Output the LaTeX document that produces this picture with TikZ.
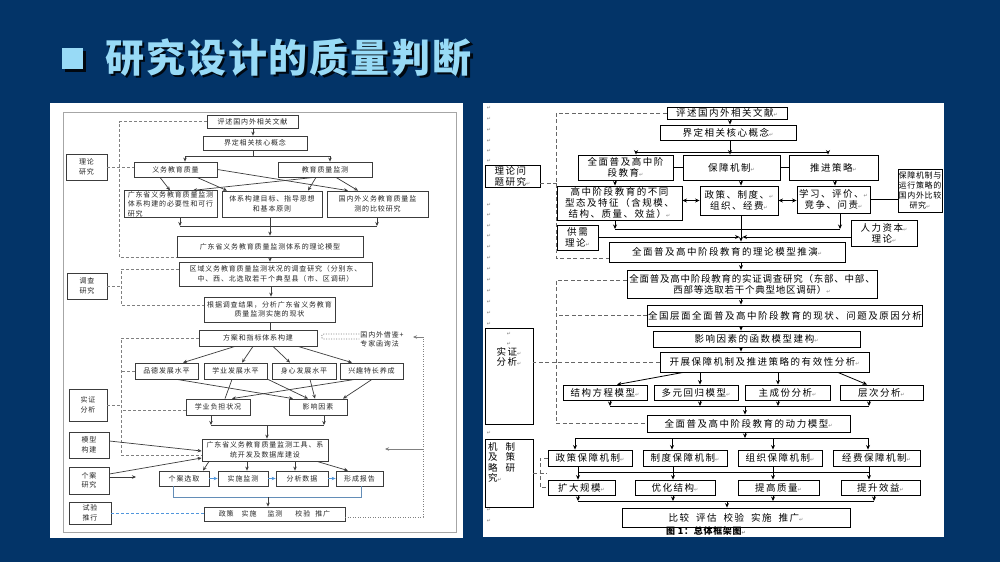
\documentclass[tikz,border=0pt]{standalone}
\usepackage{fontspec}
\setmainfont{Noto Sans CJK SC}
\newfontfamily\cjkT[LetterSpace=5]{Noto Sans CJK SC}
\newfontfamily\cjkL[LetterSpace=12]{Noto Sans CJK SC}
\newfontfamily\cjkR[LetterSpace=16]{Noto Sans CJK SC}
\newfontfamily\cjkRn[LetterSpace=8]{Noto Sans CJK SC}
\newfontfamily\dv{DejaVu Sans}
\usetikzlibrary{arrows.meta}
\definecolor{bgc}{RGB}{3,52,104}
\definecolor{ttl}{RGB}{152,218,246}
\definecolor{lg}{RGB}{60,60,60}
\definecolor{lblue}{RGB}{80,150,220}
\newcommand\rt{{\dv\fontsize{5}{5}\selectfont\textcolor{gray}{↵}}}
\newcommand\bx[7][lbox]{\node[#1, minimum width={(#4-#2)*1pt}, minimum height={(#5-#3)*1pt}] (#6) at ({(#2+#4)/2},{(#3+#5)/2}) {#7};}
\begin{document}
\begin{tikzpicture}[x=1pt,y=-1pt,
  lbox/.style={draw=lg, line width=0.8pt, fill=white, inner sep=0.5pt, align=center, text=black!85, font=\cjkL\fontsize{7}{9.5}\selectfont},
  rbox/.style={draw=black, line width=0.9pt, fill=white, inner sep=0.5pt, align=center, text=black, font=\cjkR\fontsize{9.5}{11}\selectfont},
  la/.style={draw=lg, line width=0.7pt, -{Stealth[length=4pt,width=3.5pt]}},
  ll/.style={draw=lg, line width=0.7pt},
  ldsh/.style={draw=gray, line width=0.8pt, dash pattern=on 3pt off 2pt},
  ldot/.style={draw=gray, line width=0.8pt, dash pattern=on 1pt off 1.5pt},
  lbl/.style={draw=lblue!60!gray, line width=0.8pt},
  ra/.style={draw=black, line width=0.8pt, -{Stealth[length=4.5pt,width=4pt]}},
  rda/.style={draw=black, line width=0.8pt, {Stealth[length=4.5pt,width=4pt]}-{Stealth[length=4.5pt,width=4pt]}},
  rl/.style={draw=black, line width=0.8pt},
  rdsh/.style={draw=black!60, line width=0.9pt, dash pattern=on 4pt off 2.5pt},
  retm/.style={inner sep=0, font=\dv\fontsize{5}{5}\selectfont, text=gray}
]
\useasboundingbox (0,0) rectangle (1000,562);
\fill[bgc] (0,0) rectangle (1000,562);
% title
\fill[black!85!bgc] (64.5,50.5) rectangle (85.5,71.5);
\fill[ttl] (62,48) rectangle (83,69);
\node[anchor=west, inner sep=0, text=black!85!bgc, font=\cjkT\bfseries\fontsize{39}{39}\selectfont] (tsh) at (107.5,60) {研究设计的质量判断};
\node[anchor=west, inner sep=0, text=ttl, font=\cjkT\bfseries\fontsize{39}{39}\selectfont] (title) at (105,57.5) {研究设计的质量判断};

%================ LEFT PANEL
\fill[white] (50,103) rectangle (463,538);
\draw[gray!70, line width=1pt] (63,112) rectangle (456,532);

\bx{207}{115}{298}{128}{L1}{评述国内外相关文献}
\bx{203}{136}{307}{150}{L2}{界定相关核心概念}
\bx{66}{154}{107}{180}{Lth}{理论\\研究}
\bx{134}{162}{217}{177}{L3}{义务教育质量}
\bx{278}{162}{372}{177}{L4}{教育质量监测}
\bx[lbox,align=left]{124}{191}{217}{217}{L5}{广东省义务教育质量监测\\体系构建的必要性和可行\\研究}
\bx{222}{191}{322}{217}{L6}{体系构建目标、指导思想\\和基本原则}
\bx{327}{191}{428}{217}{L7}{国内外义务教育质量监\\测的比较研究}
\bx{177}{236}{363}{257}{L8}{广东省义务教育质量监测体系的理论模型}
\bx{179}{262}{372}{286}{L9}{区域义务教育质量监测状况的调查研究（分别东、\\中、西、北选取若干个典型县（市、区调研）}
\bx{67}{273}{107}{299}{Ldc}{调查\\研究}
\bx{204}{297}{335}{322}{L10}{根据调查结果，分析广东省义务教育\\质量监测实施的现状}
\bx{199}{330}{317}{346}{L11}{方案和指标体系构建}
\node[font=\cjkL\fontsize{7}{9}\selectfont, align=left, inner sep=1pt, text=black!85] (Lgn) at (382,339.5) {国内外借鉴+\\专家函询法};
\bx{135}{363}{198}{379}{L12}{品德发展水平}
\bx{204}{363}{267}{379}{L13}{学业发展水平}
\bx{272}{363}{336}{379}{L14}{身心发展水平}
\bx{340}{363}{403}{379}{L15}{兴趣特长养成}
\bx{69}{389}{107}{421}{Lsz}{实证\\分析}
\bx{186}{399}{250}{415}{L16}{学业负担状况}
\bx{289}{399}{347}{415}{L17}{影响因素}
\bx{69}{432}{109}{458}{Lmx}{模型\\构建}
\bx{202}{439}{328}{461}{L18}{广东省义务教育质量监测工具、系\\统开发及数据库建设}
\bx{69}{467}{109}{494}{Lga}{个案\\研究}
\bx{159}{471}{209}{486}{L19}{个案选取}
\bx{218}{471}{268}{486}{L20}{实施监测}
\bx{276}{471}{328}{486}{L21}{分析数据}
\bx{336}{471}{383}{486}{L22}{形成报告}
\bx{69}{502}{111}{524}{Lsy}{试验\\推行}
\bx{204}{507}{345}{521}{L23}{政策\hspace{8pt}实施\hspace{11pt}监测\hspace{13pt}校验\hspace{5pt}推广}

% left connectors
\draw[la] (L1.south -| 253,0) -- (L2.north -| 253,0);
\coordinate (lb1) at (253,156);
\draw[ll] (L2.south -| lb1) -- (lb1);
\draw[la] (lb1) -| (L3.north -| 185,0);
\draw[la] (lb1) -| (L4.north -| 330,0);
\draw[la] (L3.south -| 160,0) -- (L5.north -| 170,0);
\draw[la] (L3.south -| 197,0) -- (L6.north -| 227,0);
\draw[la] (L3.east) -- (L7.north -| 348,0);
\draw[la] (L4.south -| 314,0) -- (L5.north -| 193,0);
\draw[la] (L4.south -| 316,0) -- (L6.north -| 308,0);
\draw[la] (L4.south -| 336,0) -- (L7.north -| 358,0);
\coordinate (lb2L) at (180,226);
\coordinate (lb2R) at (377,226);
\draw[la] (L5.south -| lb2L) -- (lb2L);
\draw[la] (L7.south -| lb2R) -- (lb2R);
\draw[ll] (lb2L) -- (lb2R);
\draw[la] (L6.south -| 270,0) -- (L8.north -| 270,0);
\draw[la] (L8.south -| 270,0) -- (L9.north -| 270,0);
\draw[la] (L9.south -| 271,0) -- (L10.north -| 271,0);
\draw[ll] (L10.south -| 270,0) -- (L11.north -| 270,0);
\draw[ldsh] (L1.west) -| (119,250) |- (L8.south west);
\draw[ldsh] (Lth.east) -- (Lth.east -| L3.west);
\draw[ldsh] (L9.west |- 0,269) -| (121,290) |- (L10.west |- 0,305);
\draw[ldsh] (Ldc.east) -- (Ldc.east -| 121,0);
\draw[ldsh] (L11.west) -| (121,420) |- (L18.west |- 0,455);
\draw[ldsh] (L12.west) -- (L12.west -| 121,0);
\draw[ldsh] (Lsz.east) -- (Lsz.east -| 121,0);
\draw[ldsh] (L16.west |- 0,410) -- (121,410);
\draw[la] (L11.south -| 235,0) -- (L12.north -| 183,0);
\draw[la] (L11.south -| 253,0) -- (L13.north -| 242,0);
\draw[la] (L11.south -| 273,0) -- (L14.north -| 290,0);
\draw[la] (L11.south -| 298,0) -- (L15.north -| 352,0);
\draw[la] (L12.south -| 177,0) -- (L17.north -| 293,0);
\draw[ll] (L13.south -| 232,0) -- (L16.north -| 225,0);
\draw[la] (L13.south -| 268,0) -- (L17.north -| 308,0);
\draw[la] (L14.south -| 310,0) -- (L17.north -| 315,0);
\draw[la] (L15.south -| 355,0) -- (L16.north -| 232,0);
\draw[la] (L15.south -| 372,0) -- (L17.north -| 343,0);
\coordinate (lb3L) at (211,425);
\coordinate (lb3R) at (324,425);
\draw[la] (L16.south -| lb3L) -- (lb3L);
\draw[la] (L17.south -| lb3R) -- (lb3R);
\draw[ll] (lb3L) -- (lb3R);
\draw[la] (lb3L -| 267,0) -- (L18.north -| 267,0);
\draw[la] (Lmx.east |- 0,441) -- (L18.west |- 0,451);
\draw[la] (Lga.east |- 0,474) -- (L18.west |- 0,458);
\draw[la] (Lga.east |- 0,477) -- (136,477);
\draw[la] (L18.south -| 209,0) -- (L19.north -| 203,0);
\draw[la] (L18.south -| 247,0) -- (L20.north -| 247,0);
\draw[la] (L18.south -| 295,0) -- (L21.north -| 295,0);
\draw[la] (L18.south -| 317,0) -- (L22.north -| 348,0);
\draw[la, draw=lblue] (L19.east) -- (L20.west);
\draw[la, draw=lblue] (L20.east) -- (L21.west);
\draw[la, draw=lblue] (L21.east) -- (L22.west);
\coordinate (lb4L) at (173,497);
\coordinate (lb4R) at (361,497);
\draw[lbl] (L19.south -| lb4L) -- (lb4L) -- (lb4R) -- (L22.south -| lb4R);
\draw[la] (lb4L -| 268,0) -- (L23.north -| 268,0);
\draw[ldsh, draw=lblue] (Lsy.east) -- (Lsy.east -| L23.west);
\coordinate (lr1) at (423,337);
\draw[ldot] (L23.east |- 0,517) -| (lr1);
\draw[la, draw=gray] (lr1) -- ++(-10,0);
\draw[la, draw=gray] (lr1 |- 0,449) -- ++(-38,0);
\draw[ldot] (Lgn.west |- 0,334) -- (324,334) arc[start angle=270, end angle=90, radius=2.5] -- (Lgn.west |- 0,339);

%================ RIGHT PANEL
\fill[white] (483,103) rectangle (944,537);
\foreach \yy [count=\i] in {108,119,130,141,151,161,205,215,226,236,247,258,269,280,291,302,313,324,433,510,521}
  \node[retm] (mk\i) at (489,\yy) {↵};

\bx[rbox]{667}{107}{787}{119}{R1}{评述国内外相关文献\rt}
\bx[rbox]{660}{125}{796}{140}{R2}{界定相关核心概念\rt}
\bx[rbox,align=left]{485}{165}{540}{187}{Rth}{理论问\\题研究\rt}
\bx[rbox]{578}{155}{673}{180}{R3}{全面普及高中阶\\段教育\rt}
\bx[rbox]{683}{155}{780}{180}{R4}{保障机制\rt}
\bx[rbox]{789}{155}{878}{180}{R5}{推进策略\rt}
\bx[rbox]{557}{186}{682}{220}{R6}{高中阶段教育的不同\\型态及特征（含规模、\\结构、质量、效益）\rt}
\bx[rbox]{700}{186}{778}{215}{R7}{政策、制度、\rt\\组织、经费\rt}
\bx[rbox]{797}{186}{870}{213}{R8}{学习、评价、\rt\\竞争、问责\rt}
\bx[rbox,font=\cjkRn\fontsize{8}{10}\selectfont]{898}{169}{942}{212}{R9}{保障机制与\\运行策略的\\国内外比较\\研究\rt}
\bx[rbox]{557}{225}{598}{250}{Rgx}{供需\\理论\rt}
\bx[rbox]{851}{220}{917}{246}{Rrl}{人力资本\rt\\理论\rt}
\bx[rbox]{609}{242}{845}{262}{R10}{全面普及高中阶段教育的理论模型推演\rt}
\bx[rbox,font=\cjkRn\fontsize{9.5}{11}\selectfont]{627}{270}{877}{298}{R11}{全面普及高中阶段教育的实证调查研究（东部、中部、\\西部等选取若干个典型地区调研）\rt}
\bx[rbox]{648}{305}{922}{326}{R12}{全国层面全面普及高中阶段教育的现状、问题及原因分析}
\bx[rbox]{653}{331}{860}{347}{R13}{影响因素的函数模型建构\rt}
\bx[rbox]{660}{352}{869}{372}{R14}{开展保障机制及推进策略的有效性分析\rt}
\bx[rbox]{563}{385}{647}{400}{R15}{结构方程模型\rt}
\bx[rbox]{654}{385}{738}{400}{R16}{多元回归模型\rt}
\bx[rbox]{745}{385}{830}{400}{R17}{主成份分析\rt}
\bx[rbox]{840}{385}{923}{400}{R18}{层次分析\rt}
\bx[rbox]{485}{328}{533}{424}{Rsz}{}
\node[anchor=north, inner sep=0, align=center, font=\cjkR\fontsize{9.5}{10}\selectfont] (Rszt) at (Rsz.north |- 0,332) {\rt\\\rt\\实证\rt\\分析\rt};
\bx[rbox]{647}{415}{850}{432}{R19}{全面普及高中阶段教育的动力模型\rt}
\bx[rbox]{485}{439}{533}{507}{Rjz}{}
\node[anchor=north west, inner sep=0, align=left, font=\cjkR\fontsize{9.5}{10.5}\selectfont] (Rjzt) at (488,442) {机\hspace{8pt}制\\及\hspace{8pt}策\\略\hspace{8pt}研\\究\rt};
\bx[rbox]{548}{450}{632}{466}{R20}{政策保障机制\rt}
\bx[rbox]{643}{450}{727}{466}{R21}{制度保障机制\rt}
\bx[rbox]{738}{450}{822}{466}{R22}{组织保障机制\rt}
\bx[rbox]{833}{450}{920}{466}{R23}{经费保障机制\rt}
\bx[rbox]{548}{480}{615}{495}{R24}{扩大规模\rt}
\bx[rbox]{635}{480}{715}{495}{R25}{优化结构\rt}
\bx[rbox]{738}{480}{819}{495}{R26}{提高质量\rt}
\bx[rbox]{841}{480}{920}{495}{R27}{提升效益\rt}
\bx[rbox]{622}{508}{850}{527}{R28}{比较\hspace{7pt}评估\hspace{7pt}校验\hspace{7pt}实施\hspace{7pt}推广\rt}
\node[inner sep=0, font=\cjkRn\bfseries\fontsize{9}{9}\selectfont] (cap) at (706,531.5) {图 1：总体框架图\rt};

% right connectors
\draw[ra] (R1.south -| 730,0) -- (R2.north -| 730,0);
\coordinate (rb1L) at (636,152);
\coordinate (rb1R) at (828,152);
\draw[rl] (rb1L) -- (rb1R);
\draw[ra] (rb1L) -- (R3.north -| rb1L);
\draw[ra] (rb1R) -- (R5.north -| rb1R);
\draw[ra] (R2.south -| 730,0) -- (R4.north -| 730,0);
\draw[rl] (R3.east) -- (R4.west);
\draw[rl] (R4.east) -- (R5.west);
\draw[ra] (R3.south -| 615,0) -- (R6.north -| 615,0);
\draw[ra] (R4.south -| 741,0) -- (R7.north -| 741,0);
\draw[ra] (R5.south -| 835,0) -- (R8.north -| 835,0);
\draw[rda] (R6.east |- R7.west) -- (R7.west);
\draw[rda] (R7.east) -- (R7.east -| R8.west);
\draw[rl] (R8.east) -- (R8.east -| R9.west);
\coordinate (rb2L) at (615,229);
\coordinate (rb2R) at (840,229);
\draw[ra] (R6.south -| rb2L) -- (rb2L);
\draw[ra] (R8.south -| rb2R) -- (rb2R);
\draw[rl] (rb2L) -- (rb2R);
\draw[ra] (R7.south -| 741,0) -- (R10.north -| 741,0);
\coordinate (mc) at (741,237);
\draw[ra] (Rgx.east |- mc) -- ([xshift=-1.5pt]mc);
\draw[ra] (Rrl.west |- mc) -- ([xshift=1.5pt]mc);
\draw[rdsh] (R1.west) -| (556,250) |- (R10.west |- 0,258);
\draw[rdsh] (Rth.east |- 0,183) -- (558,183);
\draw[ra] (R10.south -| 741,0) -- (R11.north -| 741,0);
\draw[ra] (R11.south -| 741,0) -- (R12.north -| 741,0);
\draw[ra] (R12.south -| 741,0) -- (R13.north -| 741,0);
\draw[ra] (R13.south -| 741,0) -- (R14.north -| 741,0);
\draw[rdsh] (R11.west |- 0,280) -| (R19.west -| 556,0) -- (R19.west);
\draw[rdsh] (R12.west) -- (R12.west -| 556,0);
\draw[rdsh] (R14.west) -- (R14.west -| Rsz.east);
\draw[ra] (R14.south -| 683,0) -- (R15.north -| 617,0);
\draw[ra] (R14.south -| 700,0) -- (R16.north -| 700,0);
\draw[ra] (R14.south -| 778,0) -- (R17.north -| 778,0);
\draw[ra] (R14.south -| 838,0) -- (R18.north -| 867,0);
\coordinate (rb3L) at (610,406);
\coordinate (rb3R) at (869,406);
\draw[rl] (rb3L) -- (rb3R);
\draw[ra] (R15.south -| rb3L) -- (rb3L);
\draw[ra] (R16.south -| 700,0) -- (rb3L -| 700,0);
\draw[ra] (R17.south -| 778,0) -- (rb3L -| 778,0);
\draw[ra] (R18.south -| rb3R) -- (rb3R);
\draw[ra] (rb3L -| 745,0) -- (R19.north -| 745,0);
\coordinate (rb4L) at (575,438);
\coordinate (rb4R) at (868,438);
\draw[ra] (R19.south -| 745,0) -- (rb4L -| 745,0);
\draw[rl] (rb4L) -- (rb4R);
\draw[ra] (rb4L) -- (R20.north -| rb4L);
\draw[ra] (rb4L -| 672,0) -- (R21.north -| 672,0);
\draw[ra] (rb4L -| 773,0) -- (R22.north -| 773,0);
\draw[ra] (rb4R) -- (R23.north -| rb4R);
\coordinate (rb5L) at (578,472);
\coordinate (rb5R) at (869,472);
\draw[rl] (rb5L) -- (rb5R);
\draw[ra] (R20.south -| 578,0) -- (R24.north -| 578,0);
\draw[ra] (R21.south -| 673,0) -- (R25.north -| 673,0);
\draw[ra] (R22.south -| 773,0) -- (R26.north -| 773,0);
\draw[ra] (R23.south -| 869,0) -- (R27.north -| 869,0);
\coordinate (rb6L) at (578,501);
\coordinate (rb6R) at (874,501);
\draw[rl] (rb6L) -- (rb6R);
\draw[ra] (R24.south -| rb6L) -- (rb6L);
\draw[ra] (R25.south -| 673,0) -- (rb6L -| 673,0);
\draw[ra] (R26.south -| 773,0) -- (rb6L -| 773,0);
\draw[ra] (R27.south -| rb6R) -- (rb6R);
\draw[ra] (rb6L -| 727,0) -- (R28.north -| 727,0);
\draw[rdsh] (R20.west) -| (R24.west -| 540,0) -- (R24.west);
\draw[rdsh] (Rjz.east) -- (Rjz.east -| 547,0);
\end{tikzpicture}
\end{document}
